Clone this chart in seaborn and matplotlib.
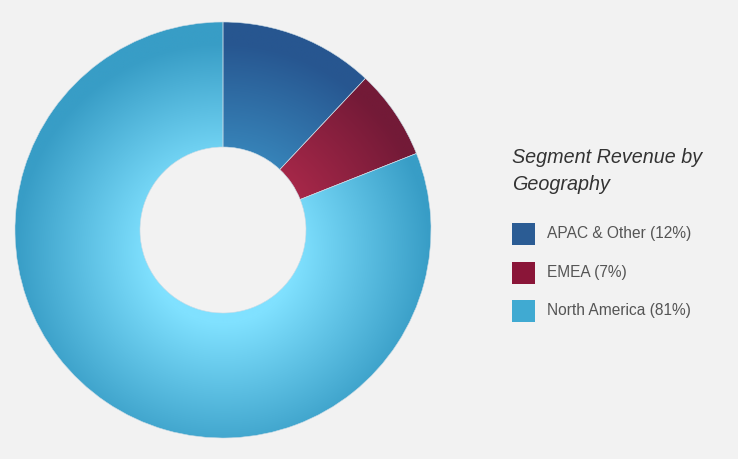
import numpy as np
import matplotlib
matplotlib.use("Agg")
import matplotlib.pyplot as plt
import seaborn as sns
from matplotlib.colors import LinearSegmentedColormap
from matplotlib.patches import Rectangle

regions = ["APAC & Other", "EMEA", "North America"]
shares = [12, 7, 81]
base_colors = ["#2b5c94", "#8a1538", "#40aad2"]
light_colors = ["#3b8fc3", "#b02a4c", "#80e1ff"]
dark_colors = ["#275690", "#731a37", "#389dc6"]

sns.set_style("white", {"axes.facecolor": "#f2f2f2", "figure.facecolor": "#f2f2f2"})
plt.rcParams["font.family"] = ["Liberation Sans", "DejaVu Sans"]

fig = plt.figure(figsize=(7.38, 4.59), dpi=100)
fig.patch.set_facecolor("#f2f2f2")
ax = fig.add_axes([0, 0, 1, 1])
ax.set_facecolor("#f2f2f2")

# pie in pixel-like data units
cx, cy, R, hole = 223, 459 - 230, 208, 83
wedges, _ = ax.pie(shares, center=(cx, cy), radius=R, startangle=90,
                   counterclock=False,
                   wedgeprops=dict(width=R - hole, facecolor="none",
                                   edgecolor="#c9dbe6", linewidth=0.4))
ax.set_xlim(0, 738)
ax.set_ylim(0, 459)
ax.set_aspect("equal")
ax.axis("off")

# radial gradient, lighter towards the centre
xs = np.linspace(cx - R, cx + R, 500)
ys = np.linspace(cy - R, cy + R, 500)
X, Y = np.meshgrid(xs, ys)
d = np.hypot(X - cx, Y - (cy - 0.1 * R)) / R
t = np.clip((d - 0.35) / 0.65, 0, 1)
for w, lc, dc in zip(wedges, light_colors, dark_colors):
    cmap = LinearSegmentedColormap.from_list("g", [lc, dc])
    im = ax.imshow(t, cmap=cmap, vmin=0, vmax=1, origin="lower",
                   extent=(cx - R, cx + R, cy - R, cy + R),
                   interpolation="bilinear", zorder=1)
    im.set_clip_path(w)
    w.set_zorder(3)

# legend
fig.text(512 / 738, 1 - 163 / 459, "Segment Revenue by", fontsize=14.2,
         style="italic", color="#333333", ha="left", va="baseline")
fig.text(512 / 738, 1 - 190 / 459, "Geography", fontsize=14.2,
         style="italic", color="#333333", ha="left", va="baseline")
for i, (name, val, col) in enumerate(zip(regions, shares, base_colors)):
    yc = 234 + i * 38.5
    fig.add_artist(Rectangle((512 / 738, 1 - (yc + 11) / 459), 23 / 738, 22 / 459,
                             transform=fig.transFigure, facecolor=col, edgecolor="none"))
    fig.text(547 / 738, 1 - yc / 459, f"{name} ({val}%)", fontsize=11.2,
             color="#555555", ha="left", va="center")

fig.savefig("out.png", dpi=100, facecolor=fig.get_facecolor())
